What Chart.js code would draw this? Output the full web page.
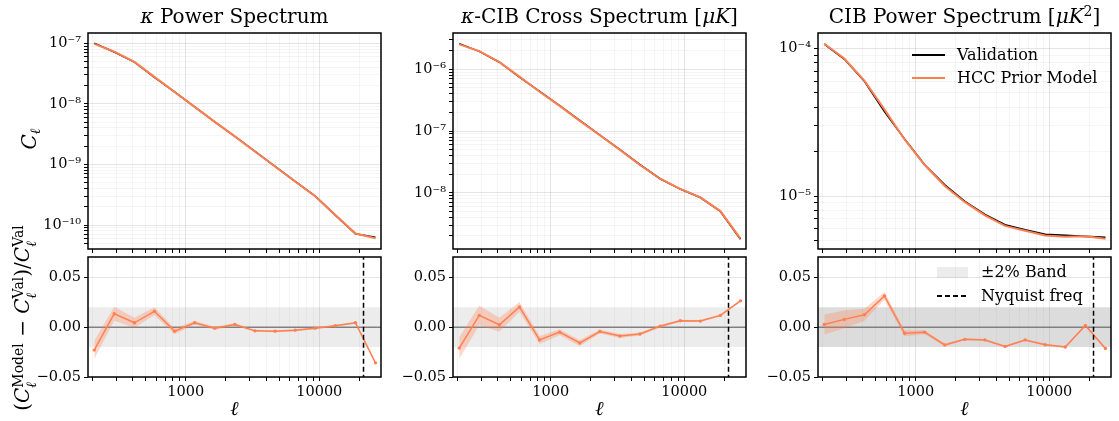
<!DOCTYPE html>
<html><head><meta charset="utf-8">
<script src="https://cdn.jsdelivr.net/npm/chart.js@4.4.1/dist/chart.umd.min.js"></script>
<style>
html,body{margin:0;padding:0;background:#fff;}
#wrap{position:relative;width:1119px;height:421px;overflow:hidden;background:#fff;font-family:"DejaVu Serif",serif;color:#000;}
canvas{position:absolute;left:0;top:0;}
.t{position:absolute;white-space:nowrap;transform:translate(-50%,0);font-size:20px;line-height:1;}
.yl{position:absolute;white-space:nowrap;transform:translate(-50%,-50%) rotate(-90deg);line-height:1;}
.xl{position:absolute;white-space:nowrap;transform:translate(-50%,-50%);font-size:20px;line-height:1;font-style:italic;}
.lg{position:absolute;white-space:nowrap;font-size:16px;line-height:1;}
.sw{position:absolute;}
sup.m{font-size:0.7em;vertical-align:0.5em;line-height:0;}
sub.m{font-size:0.7em;vertical-align:-0.3em;line-height:0;}
.ss{display:inline-block;font-size:0.7em;line-height:0.95;vertical-align:-0.5em;text-align:left;}
.ss>span{display:block;}
</style></head>
<body><div id="wrap">
<canvas id="c0" width="1119" height="421"></canvas>
<canvas id="c1" width="1119" height="421"></canvas>
<canvas id="c2" width="1119" height="421"></canvas>
<canvas id="c3" width="1119" height="421"></canvas>
<canvas id="c4" width="1119" height="421"></canvas>
<canvas id="c5" width="1119" height="421"></canvas>

<div class="t" style="left:234.5px;top:6px"><i>κ</i> Power Spectrum</div>
<div class="t" style="left:599.5px;top:6px"><i>κ</i>-CIB Cross Spectrum [<i>μK</i>]</div>
<div class="t" style="left:964.5px;top:6px">CIB Power Spectrum [<i>μK</i><sup class="m">2</sup>]</div>

<div class="yl" style="left:28.5px;top:139px;font-size:20px"><i>C</i><sub class="m"><i>ℓ</i></sub></div>
<div class="yl" style="left:25px;top:318px;font-size:20px">(<i>C</i><span class="ss"><span>Model</span><span><i>ℓ</i></span></span> − <i>C</i><span class="ss"><span>Val</span><span><i>ℓ</i></span></span>)/<i>C</i><span class="ss"><span>Val</span><span><i>ℓ</i></span></span></div>

<div class="xl" style="left:234.5px;top:408px">ℓ</div>
<div class="xl" style="left:599.5px;top:408px">ℓ</div>
<div class="xl" style="left:964.5px;top:408px">ℓ</div>

<div class="sw" style="left:912px;top:54px;width:33px;height:2px;background:#000"></div>
<div class="lg" style="left:957px;top:46.5px">Validation</div>
<div class="sw" style="left:912px;top:76.5px;width:33px;height:2px;background:#FF7F50"></div>
<div class="lg" style="left:957px;top:69.8px">HCC Prior Model</div>
<div class="sw" style="left:937px;top:266.5px;width:31px;height:11px;background:rgba(128,128,128,0.15)"></div>
<div class="lg" style="left:981px;top:264.2px">±2% Band</div>
<div class="sw" style="left:937px;top:295.3px;width:31px;height:1.5px;background:repeating-linear-gradient(to right,#000 0 5px,transparent 5px 8px)"></div>
<div class="lg" style="left:981px;top:288.2px">Nyquist freq</div>
</div>
<script>
// ---------------- data ----------------
const ell = [206, 291, 412, 582, 824, 1165, 1648, 2330, 3296, 4661, 6592, 9322, 13184, 18645, 26368];

const kappaVal   = [1.0e-7, 7.2e-8, 4.9e-8, 2.75e-8, 1.58e-8, 8.9e-9, 5.05e-9, 2.9e-9, 1.64e-9, 9.3e-10, 5.25e-10, 3.0e-10, 1.46e-10, 7.2e-11, 6.3e-11];
const kappaModel = [9.77e-8, 7.30e-8, 4.92e-8, 2.79e-8, 1.574e-8, 8.94e-9, 5.045e-9, 2.908e-9, 1.634e-9, 9.26e-10, 5.234e-10, 2.997e-10, 1.462e-10, 7.23e-11, 6.07e-11];
const kappaRatio = [-0.023, 0.0135, 0.0044, 0.0159, -0.004, 0.0044, -0.001, 0.0027, -0.0037, -0.004, -0.003, -0.001, 0.0014, 0.0044, -0.0358];
const kappaErr   = [0.009, 0.007, 0.005, 0.004, 0.003, 0.002, 0.0015, 0.0015, 0.001, 0.001, 0.001, 0.001, 0.001, 0.001, 0.001];

const crossVal   = [2.6e-6, 1.96e-6, 1.31e-6, 7.5e-7, 4.4e-7, 2.58e-7, 1.49e-7, 8.6e-8, 5.0e-8, 2.85e-8, 1.69e-8, 1.15e-8, 8.4e-9, 5.0e-9, 1.77e-9];
const crossModel = [2.545e-6, 1.983e-6, 1.313e-6, 7.65e-7, 4.34e-7, 2.567e-7, 1.466e-7, 8.56e-8, 4.96e-8, 2.83e-8, 1.692e-8, 1.157e-8, 8.45e-9, 5.06e-9, 1.817e-9];
const crossRatio = [-0.021, 0.0118, 0.0024, 0.0203, -0.0128, -0.005, -0.0159, -0.0044, -0.0088, -0.0068, 0.001, 0.0064, 0.0061, 0.0118, 0.0264];
const crossErr   = [0.011, 0.010, 0.007, 0.005, 0.004, 0.003, 0.003, 0.002, 0.002, 0.0015, 0.0015, 0.001, 0.001, 0.001, 0.001];

const cibVal   = [1.07e-4, 8.47e-5, 5.98e-5, 3.74e-5, 2.43e-5, 1.63e-5, 1.19e-5, 9.2e-6, 7.5e-6, 6.4e-6, 5.9e-6, 5.5e-6, 5.42e-6, 5.33e-6, 5.25e-6];
const cibModel = [1.073e-4, 8.54e-5, 6.05e-5, 3.86e-5, 2.415e-5, 1.622e-5, 1.169e-5, 9.09e-6, 7.40e-6, 6.28e-6, 5.82e-6, 5.40e-6, 5.31e-6, 5.34e-6, 5.14e-6];
const cibRatio = [0.0027, 0.0078, 0.0125, 0.0314, -0.0061, -0.005, -0.0179, -0.0122, -0.0128, -0.0193, -0.0128, -0.0176, -0.0199, 0.0017, -0.0213];
const cibErr   = [0.010, 0.009, 0.006, 0.004, 0.003, 0.002, 0.0015, 0.001, 0.001, 0.001, 0.001, 0.001, 0.001, 0.001, 0.001];

const nyquistEll = 21450;
const bandHalfWidth = 0.02;

const xMajorTicks = [1000, 10000];
const xTickLabels = ['1000', '10000'];

const kappaYTicks = [1e-10, 1e-9, 1e-8, 1e-7];
const kappaYLabels = ['10⁻¹⁰', '10⁻⁹', '10⁻⁸', '10⁻⁷'];
const crossYTicks = [1e-8, 1e-7, 1e-6];
const crossYLabels = ['10⁻⁸', '10⁻⁷', '10⁻⁶'];
const cibYTicks = [1e-5, 1e-4];
const cibYLabels = ['10⁻⁵', '10⁻⁴'];
const ratioYTicks = [-0.05, 0, 0.05];
const ratioYLabels = ['−0.05', '0.00', '0.05'];

// ---------------- layout ----------------
const xMin = 185, xMax = 29000;
const cols = [{l:88, r:381}, {l:453, r:746}, {l:818, r:1111}];
const rows = [{t:33, b:249}, {t:257, b:377}];
const tickFont = {family:'DejaVu Serif', size:14.5};
const majorGrid = 'rgba(0,0,0,0.10)';
const minorGrid = 'rgba(0,0,0,0.04)';
const coral = '#FF7F50';

function minorLogTicks(lo, hi){
  const out = [];
  for (let e = Math.floor(Math.log10(lo)) - 1; e <= Math.ceil(Math.log10(hi)); e++){
    for (let m = 1; m < 10; m++){
      const v = parseFloat((m * Math.pow(10, e)).toPrecision(6));
      if (v >= lo && v <= hi) out.push({value:v, major: m === 1});
    }
  }
  return out;
}
function near(a, b){ return Math.abs(a - b) <= Math.abs(b) * 1e-6; }

const framePlugin = {id:'frame', afterDraw(ch){
  const a = ch.chartArea, c = ch.ctx;
  c.save(); c.strokeStyle = '#000'; c.lineWidth = 1.5;
  c.strokeRect(a.left, a.top, a.right - a.left, a.bottom - a.top);
  c.restore();
}};

function pts(ys){ return ell.map((x, i) => ({x, y: ys[i]})); }

function makeChart(id, col, row, datasets, yopt){
  const c = cols[col], r = rows[row];
  const YW = 70, XH = row === 0 ? 6 : 30;
  const xTicks = minorLogTicks(xMin, xMax);
  const y = {
    type: yopt.log ? 'logarithmic' : 'linear',
    min: yopt.min, max: yopt.max, bounds:'data',
    afterBuildTicks: s => {
      s.ticks = yopt.log ? minorLogTicks(yopt.min, yopt.max) : yopt.ticks.map(v => ({value:v, major:true}));
    },
    afterFit: s => { s.width = YW; },
    ticks: {autoSkip:false, padding:3, font:tickFont, color:'#000',
      callback: (v) => { const i = yopt.ticks.findIndex(t => near(v, t) || (t === 0 && v === 0)); return i >= 0 ? yopt.labels[i] : ''; }},
    grid: {color: ctx => (ctx.tick && yopt.ticks.some(t => near(ctx.tick.value, t) || (t === 0 && ctx.tick.value === 0))) ? majorGrid : minorGrid,
      lineWidth:1, tickLength:4, tickColor:'#000', tickWidth:1},
    border: {display:false}
  };
  new Chart(document.getElementById(id), {
    type:'line',
    data:{datasets},
    options:{
      responsive:false, animation:false, devicePixelRatio:1,
      layout:{padding:{left:c.l - YW, right:1119 - c.r, top:r.t, bottom:421 - r.b - XH}},
      plugins:{legend:{display:false}, tooltip:{enabled:false}},
      elements:{line:{tension:0}},
      scales:{
        x:{type:'logarithmic', min:xMin, max:xMax, bounds:'data',
          afterBuildTicks: s => { s.ticks = xTicks.map(t => ({value:t.value, major:t.major})); },
          afterFit: s => { s.height = XH; },
          ticks:{display: row === 1, autoSkip:false, maxRotation:0, minRotation:0, padding:3, font:tickFont, color:'#000',
            callback: v => { const i = xMajorTicks.findIndex(t => near(v, t)); return i >= 0 ? xTickLabels[i] : ''; }},
          grid:{color: ctx => (ctx.tick && xMajorTicks.some(t => near(ctx.tick.value, t))) ? majorGrid : minorGrid,
            lineWidth:1, tickLength:4, tickColor:'#000', tickWidth:1},
          border:{display:false}
        },
        y
      }
    },
    plugins:[framePlugin]
  });
}

function topSets(val, model){
  return [
    {label:'HCC Prior Model', data:pts(model), borderColor:coral, borderWidth:2, pointRadius:0, fill:false, order:0},
    {label:'Validation', data:pts(val), borderColor:'#000', borderWidth:1.6, pointRadius:0, fill:false, order:1}
  ];
}
function botSets(ratio, err, bandAlpha){
  const hi = ratio.map((v, i) => v + err[i]);
  const lo = ratio.map((v, i) => v - err[i]);
  return [
    {label:'±2% Band', data:[{x:xMin, y:bandHalfWidth}, {x:xMax, y:bandHalfWidth}], borderWidth:0, pointRadius:0, fill:'+1', backgroundColor:'rgba(128,128,128,' + bandAlpha + ')', order:10},
    {label:'band lo', data:[{x:xMin, y:-bandHalfWidth}, {x:xMax, y:-bandHalfWidth}], borderWidth:0, pointRadius:0, fill:false, order:10},
    {label:'zero', data:[{x:xMin, y:0}, {x:xMax, y:0}], borderColor:'rgba(120,120,120,0.9)', borderWidth:1.5, pointRadius:0, fill:false, order:9},
    {label:'err hi', data:pts(hi), borderWidth:0, pointRadius:0, fill:'+1', backgroundColor:'rgba(255,127,80,0.3)', order:8},
    {label:'err lo', data:pts(lo), borderWidth:0, pointRadius:0, fill:false, order:8},
    {label:'ratio', data:pts(ratio), borderColor:coral, borderWidth:1.5, pointRadius:1.7, pointBackgroundColor:coral, pointBorderWidth:0, fill:false, order:7},
    {label:'Nyquist freq', data:[{x:nyquistEll, y:-1}, {x:nyquistEll, y:1}], borderColor:'#000', borderWidth:1.5, borderDash:[5,3], pointRadius:0, fill:false, order:6}
  ];
}

makeChart('c0', 0, 0, topSets(kappaVal, kappaModel), {log:true, min:4.02e-11, max:1.48e-7, ticks:kappaYTicks, labels:kappaYLabels});
makeChart('c1', 1, 0, topSets(crossVal, crossModel), {log:true, min:1.23e-9, max:3.89e-6, ticks:crossYTicks, labels:crossYLabels});
makeChart('c2', 2, 0, topSets(cibVal, cibModel), {log:true, min:4.38e-6, max:1.27e-4, ticks:cibYTicks, labels:cibYLabels});
makeChart('c3', 0, 1, botSets(kappaRatio, kappaErr, 0.15), {log:false, min:-0.05, max:0.0704, ticks:ratioYTicks, labels:ratioYLabels});
makeChart('c4', 1, 1, botSets(crossRatio, crossErr, 0.15), {log:false, min:-0.05, max:0.0704, ticks:ratioYTicks, labels:ratioYLabels});
makeChart('c5', 2, 1, botSets(cibRatio, cibErr, 0.2775), {log:false, min:-0.05, max:0.0704, ticks:ratioYTicks, labels:ratioYLabels});
</script>
</body></html>
